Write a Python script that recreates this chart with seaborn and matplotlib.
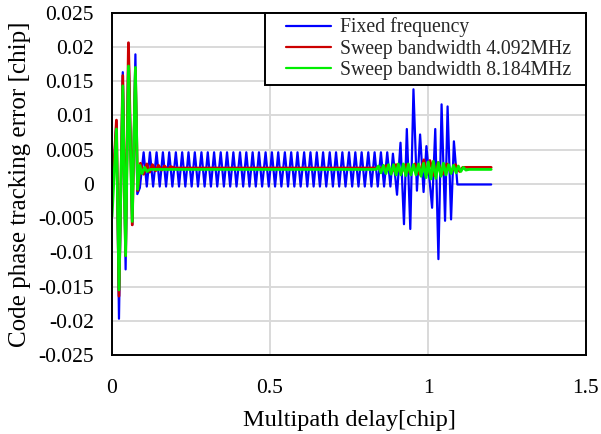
import matplotlib

matplotlib.use("Agg")
import matplotlib.pyplot as plt
import pandas as pd
import seaborn as sns
from matplotlib.legend_handler import HandlerLine2D
from matplotlib.lines import Line2D


SERIES = ["Fixed frequency", "Sweep bandwidth 4.092MHz", "Sweep bandwidth 8.184MHz"]
COLORS = ["#0000ff", "#cc0000", "#00ee00"]

# Fixed frequency: start-up transient, steady ripple, second transient, flat tail
blue_onset_x = [0.000, 0.014, 0.022, 0.034, 0.043, 0.052, 0.064, 0.074, 0.080, 0.088]
blue_onset_y = [-0.0025, 0.0092, -0.0197, 0.0163, -0.0125, 0.0205, -0.0060, 0.0189, -0.0015, -0.0006]

blue_peak_x = [0.100, 0.120, 0.141, 0.161, 0.181, 0.202, 0.222, 0.242, 0.262, 0.283,
               0.303, 0.323, 0.344, 0.364, 0.384, 0.405, 0.425, 0.445, 0.465, 0.486,
               0.506, 0.526, 0.547, 0.567, 0.587, 0.608, 0.628, 0.648, 0.668, 0.689,
               0.709, 0.729, 0.750, 0.770, 0.790, 0.811, 0.831, 0.851, 0.871]
blue_trough_x = [0.110, 0.130, 0.151, 0.171, 0.191, 0.212, 0.232, 0.252, 0.272, 0.293,
                 0.313, 0.333, 0.354, 0.374, 0.394, 0.415, 0.435, 0.455, 0.475, 0.496,
                 0.516, 0.536, 0.557, 0.577, 0.597, 0.618, 0.638, 0.658, 0.678, 0.699,
                 0.719, 0.739, 0.760, 0.780, 0.800, 0.821, 0.841, 0.861, 0.881]
blue_peak_y = 0.0046
blue_trough_y = -0.0004

blue_tail_x = [0.889, 0.902, 0.913, 0.924, 0.933, 0.944, 0.954, 0.965, 0.975, 0.986,
               0.995, 1.013, 1.023, 1.033, 1.043, 1.054, 1.062, 1.073, 1.082, 1.093, 1.200]
blue_tail_y = [0.0044, -0.0016, 0.0060, -0.0059, 0.0080, -0.0066, 0.0138, -0.0010, 0.0072, -0.0012,
               0.0055, -0.0035, 0.0080, -0.0110, 0.0116, -0.0054, 0.0113, -0.0052, 0.0062, -0.0001, -0.0001]

# Sweep 4.092 MHz
red_x = [0.000, 0.014, 0.022, 0.034, 0.043, 0.052, 0.064, 0.074, 0.081, 0.090,
         0.100, 0.110, 0.119, 0.128, 0.138, 0.147, 0.157, 0.166, 0.176, 0.186,
         0.200, 0.860, 0.870, 0.884, 0.899, 0.914, 0.930, 0.944, 0.959, 0.973,
         0.987, 0.997, 1.006, 1.019, 1.032, 1.046, 1.060, 1.073, 1.087, 1.100,
         1.110, 1.200]
red_y = [-0.0025, 0.0093, -0.0164, 0.0158, -0.0105, 0.0206, -0.0060, 0.0165, -0.0010, 0.0030,
         0.0014, 0.0029, 0.0017, 0.0028, 0.0019, 0.0027, 0.0020, 0.0026, 0.0021, 0.0025,
         0.0023, 0.0023, 0.0027, 0.0016, 0.0028, 0.0015, 0.0028, 0.0015, 0.0029, 0.0014,
         0.0035, 0.0014, 0.0034, 0.0012, 0.0031, 0.0014, 0.0029, 0.0016, 0.0028, 0.0018,
         0.0024, 0.0024]

# Sweep 8.184 MHz
green_x = [0.000, 0.014, 0.022, 0.034, 0.043, 0.052, 0.064, 0.074, 0.081, 0.088,
           0.095, 0.103, 0.111, 0.120, 0.836, 0.843, 0.851, 0.859, 0.867, 0.875,
           0.883, 0.891, 0.899, 0.906, 0.914, 0.922, 0.930, 0.938, 0.946, 0.954,
           0.962, 0.970, 0.978, 0.986, 0.994, 1.001, 1.009, 1.017, 1.025, 1.033,
           1.041, 1.049, 1.057, 1.065, 1.073, 1.081, 1.089, 1.096, 1.104, 1.112,
           1.120, 1.130, 1.200]
green_y = [-0.0048, 0.0080, -0.0155, 0.0143, -0.0105, 0.0172, -0.0055, 0.0170, -0.0008, 0.0027,
           0.0015, 0.0024, 0.0018, 0.0021, 0.0021, 0.0026, 0.0016, 0.0027, 0.0015, 0.0028,
           0.0014, 0.0028, 0.0013, 0.0029, 0.0013, 0.0029, 0.0012, 0.0029, 0.0013, 0.0028,
           0.0013, 0.0029, 0.0011, 0.0030, 0.0009, 0.0032, 0.0007, 0.0033, 0.0008, 0.0031,
           0.0011, 0.0030, 0.0013, 0.0028, 0.0015, 0.0027, 0.0016, 0.0026, 0.0018, 0.0024,
           0.0020, 0.0021, 0.0021]

X_TICKS = [0, 0.5, 1, 1.5]
Y_TICKS = [-0.025, -0.02, -0.015, -0.01, -0.005, 0, 0.005, 0.01, 0.015, 0.02, 0.025]


class IndentedLine(HandlerLine2D):
    # legend line drawn only in the right part of the handle box, leaves a left margin
    def create_artists(self, legend, orig_handle, xdescent, ydescent, width, height, fontsize, trans):
        artists = super().create_artists(legend, orig_handle, xdescent, ydescent, width, height, fontsize, trans)
        line = artists[0]
        y0 = line.get_ydata()[0]
        line.set_data([-xdescent + width * 0.26, -xdescent + width], [y0, y0])
        return artists


def build_frame() -> pd.DataFrame:
    ripple = sorted(
        [(x, blue_peak_y) for x in blue_peak_x] + [(x, blue_trough_y) for x in blue_trough_x]
    )
    bx = blue_onset_x + [p[0] for p in ripple] + blue_tail_x
    by = blue_onset_y + [p[1] for p in ripple] + blue_tail_y
    parts = [
        pd.DataFrame({"delay": bx, "error": by, "series": SERIES[0]}),
        pd.DataFrame({"delay": red_x, "error": red_y, "series": SERIES[1]}),
        pd.DataFrame({"delay": green_x, "error": green_y, "series": SERIES[2]}),
    ]
    return pd.concat(parts, ignore_index=True)


def tick_text(v):
    return f"{v:g}"


def main() -> None:
    frame = build_frame()
    sns.set_theme(style="white")
    plt.rcParams["font.family"] = ["Liberation Serif", "DejaVu Serif"]

    fig = plt.figure(figsize=(6.01, 4.34), dpi=100)
    ax = fig.add_axes([0.1864, 0.182, 0.7886, 0.789])

    widths = [1.6, 2.0, 2.0]
    for name, color, lw in zip(SERIES, COLORS, widths):
        sns.lineplot(
            data=frame[frame["series"] == name],
            x="delay",
            y="error",
            color=color,
            linewidth=lw,
            estimator=None,
            sort=False,
            ax=ax,
            legend=False,
        )

    ax.set_xlim(0, 1.5)
    ax.set_ylim(-0.025, 0.025)
    ax.set_xticks(X_TICKS)
    ax.set_yticks(Y_TICKS)
    ax.set_xticklabels([tick_text(v) for v in X_TICKS])
    ax.set_yticklabels([tick_text(v) for v in Y_TICKS])
    ax.tick_params(axis="both", length=0, labelsize=15.5, colors="black")
    ax.tick_params(axis="x", pad=17)
    ax.tick_params(axis="y", pad=13)
    ax.grid(True, color="#d9d9d9", linewidth=1.4)
    ax.set_axisbelow(True)
    for spine in ax.spines.values():
        spine.set_color("black")
        spine.set_linewidth(1.4)

    ax.set_xlabel("Multipath delay[chip]", fontsize=17.5, labelpad=9, color="black")
    ax.set_ylabel("Code phase tracking error [chip]", fontsize=18, labelpad=5, color="black")

    handles = [Line2D([], [], color=c, linewidth=1.6) for c in COLORS]
    leg = ax.legend(
        handles,
        [s + "  " for s in SERIES],
        loc="upper right",
        bbox_to_anchor=(1.0, 1.0),
        borderaxespad=0,
        fontsize=14.2,
        frameon=True,
        fancybox=False,
        handlelength=3.1,
        handletextpad=0.45,
        labelspacing=0.12,
        borderpad=0.25,
        handler_map={Line2D: IndentedLine()},
    )
    leg.get_frame().set_edgecolor("black")
    leg.get_frame().set_linewidth(1.4)
    leg.get_frame().set_alpha(1)

    fig.savefig("out.png", dpi=100)
    plt.close(fig)


if __name__ == "__main__":
    main()
